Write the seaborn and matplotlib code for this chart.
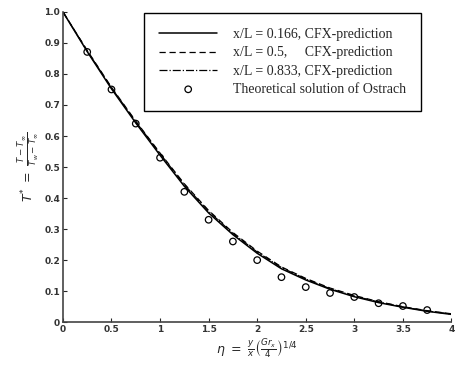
import numpy as np
import pandas as pd
import seaborn as sns
import matplotlib.pyplot as plt

eta = [0, 0.25, 0.5, 0.75, 1.0, 1.25, 1.5, 1.75, 2.0, 2.25, 2.5, 2.75, 3.0, 3.25, 3.5, 3.75, 4.0]
t_0166 = [1.0, 0.872, 0.752, 0.642, 0.538, 0.438, 0.352, 0.282, 0.222, 0.172, 0.136, 0.106, 0.082, 0.063, 0.048, 0.035, 0.025]
t_05 = [1.0, 0.876, 0.757, 0.648, 0.545, 0.446, 0.360, 0.289, 0.229, 0.178, 0.141, 0.110, 0.086, 0.066, 0.050, 0.037, 0.027]
t_0833 = [1.0, 0.874, 0.755, 0.646, 0.543, 0.443, 0.357, 0.286, 0.226, 0.176, 0.139, 0.108, 0.084, 0.065, 0.049, 0.036, 0.026]

eta_th = [0.25, 0.5, 0.75, 1.0, 1.25, 1.5, 1.75, 2.0, 2.25, 2.5, 2.75, 3.0, 3.25, 3.5, 3.75]
t_th = [0.871, 0.75, 0.64, 0.53, 0.42, 0.33, 0.26, 0.20, 0.145, 0.113, 0.094, 0.081, 0.061, 0.052, 0.039]

sns.set_style("ticks")
plt.rcParams['font.family'] = ['DejaVu Sans']

fig, ax = plt.subplots(figsize=(4.56, 3.72), dpi=100)
fig.subplots_adjust(left=0.138, right=0.99, bottom=0.134, top=0.968)

sns.lineplot(x=eta, y=t_0166, ax=ax, color="black", lw=1.1, linestyle="-",
             label="x/L = 0.166, CFX-prediction")
sns.lineplot(x=eta, y=t_05, ax=ax, color="black", lw=0.9, linestyle=(0, (5, 3)),
             label="x/L = 0.5,     CFX-prediction")
sns.lineplot(x=eta, y=t_0833, ax=ax, color="black", lw=0.9, linestyle="-.",
             label="x/L = 0.833, CFX-prediction")
sns.scatterplot(x=eta_th, y=t_th, ax=ax, marker="o", s=22, facecolor="none",
                edgecolor="black", linewidth=0.9, label="Theoretical solution of Ostrach")

ax.set_xlim(0, 4)
ax.set_ylim(0, 1)
ax.set_xticks([0, 0.5, 1, 1.5, 2, 2.5, 3, 3.5, 4])
ax.set_xticklabels(["0", "0.5", "1", "1.5", "2", "2.5", "3", "3.5", "4"])
ax.set_yticks(np.arange(0, 1.01, 0.1))
ax.set_yticklabels(["0", "0.1", "0.2", "0.3", "0.4", "0.5", "0.6", "0.7", "0.8", "0.9", "1.0"])
ax.tick_params(direction="in", length=3, width=0.8, labelsize=6.5, pad=2)
for lab in ax.get_xticklabels() + ax.get_yticklabels():
    lab.set_fontweight("bold")
    lab.set_color("#333333")
sns.despine(ax=ax)
for s in ["left", "bottom"]:
    ax.spines[s].set_linewidth(1.2)
    ax.spines[s].set_color("#444444")

ax.set_xlabel(r"$\eta\ =\ \frac{y}{x}\left(\frac{Gr_x}{4}\right)^{1/4}$", fontsize=9, labelpad=3)
ax.set_ylabel(r"$T^{*}\ =\ \frac{T-T_\infty}{T_w-T_\infty}$", fontsize=9, labelpad=2)

leg = ax.legend(loc="upper left", bbox_to_anchor=(0.208, 0.997), borderaxespad=0,
                frameon=True, fancybox=False,
                edgecolor="black", framealpha=1, handlelength=4.2, handletextpad=1.1,
                borderpad=1.1, labelspacing=0.38, prop={"family": "Liberation Serif", "size": 10})
leg.get_frame().set_linewidth(1.0)

fig.savefig("out.png", dpi=100)
